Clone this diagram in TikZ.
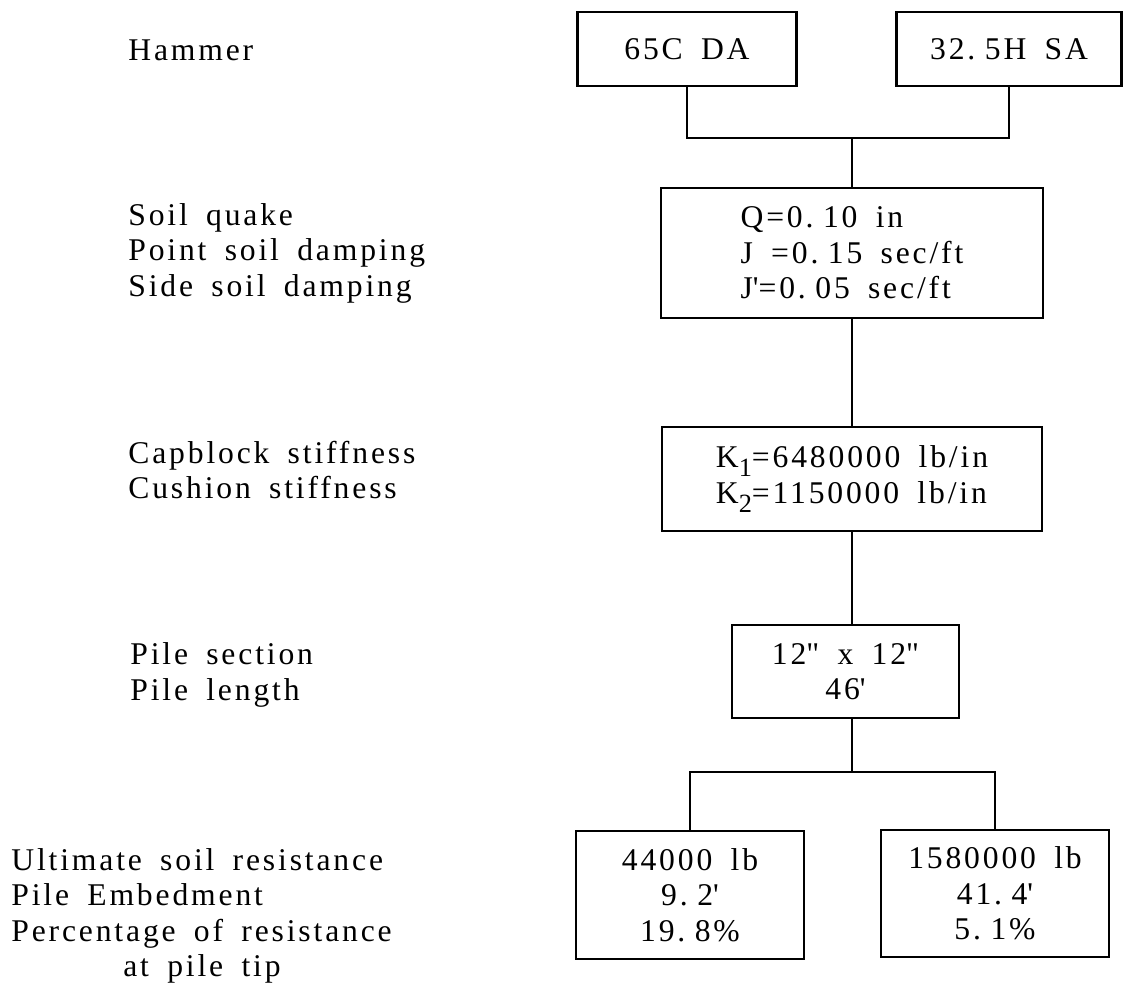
\documentclass[tikz,border=0pt]{standalone}
\usepackage{fontspec}
\setmainfont[LetterSpace=9, WordSpace=1.7]{Liberation Serif}
\usepackage{tikz}
\newcommand{\typed}{\fontsize{18}{20.2}\selectfont}
\newcommand{\dotgap}{.\kern0.3em}
\newcommand{\low}[1]{\raisebox{-0.6ex}{\fontsize{15}{15}\selectfont #1}}
\tikzstyle{box} = [rectangle, draw, line width=1.3pt, inner sep=0pt,
  align=center, font=\typed]
\tikzstyle{lbl} = [anchor=west, align=left, inner sep=0pt, font=\typed]
\tikzstyle{wire} = [line width=1.3pt]

\begin{document}
\begin{tikzpicture}[x=0.02cm, y=-0.02cm]
    \useasboundingbox (0,0) rectangle (1125,988);
    % parameter names
    \node[lbl] (l0) at (128,50) {Hammer};
    \node[lbl] (l1) at (128,253) {Soil quake\\Point soil damping\\Side soil damping};
    \node[lbl] (l2) at (128,470) {Capblock stiffness\\Cushion stiffness};
    \node[lbl] (l3) at (130,675) {Pile section\\Pile length};
    \node[lbl] (l4) at (11,916) {Ultimate soil resistance\\Pile Embedment\\Percentage of resistance\\\hspace*{2.24cm}at pile tip};
    % values
    \node[box, minimum width=4.38cm, minimum height=1.48cm] (h1) at (687,49) {65C DA};
    \node[box, minimum width=4.5cm, minimum height=1.48cm] (h2) at (1009,49) {32\dotgap 5H SA};
    \node[box, align=left, minimum width=7.64cm, minimum height=2.6cm] (soil) at (852,253) {Q=0\dotgap 10 in\\J =0\dotgap 15 sec/ft\\J\textquotesingle=0\dotgap 05 sec/ft};
    \node[box, align=left, minimum width=7.6cm, minimum height=2.08cm] (stiff) at (852,479) {K\low{1}=6480000 lb/in\\K\low{2}=1150000 lb/in};
    \node[box, minimum width=4.54cm, minimum height=1.86cm] (pile) at (845.5,671.5) {12\textquotedbl{} x 12\textquotedbl\\46\textquotesingle};
    \node[box, minimum width=4.56cm, minimum height=2.56cm] (r1) at (690,895) {44000 lb\\9\dotgap 2\textquotesingle\\19\dotgap 8\%};
    \node[box, minimum width=4.56cm, minimum height=2.54cm] (r2) at (995,893.5) {1580000 lb\\41\dotgap 4\textquotesingle\\5\dotgap 1\%};
    % connectors
    \coordinate (tj) at (852,138);
    \coordinate (bj) at (852,772);
    \draw[wire] (h1.south) |- (tj) -| (h2.south);
    \draw[wire] (tj) -- (soil.north);
    \draw[wire] (soil) -- (stiff);
    \draw[wire] (stiff.south) -- (pile.north -| tj);
    \draw[wire] (pile.south -| tj) -- (bj);
    \draw[wire] (r1.north) |- (bj) -| (r2.north);
\end{tikzpicture}
\end{document}
